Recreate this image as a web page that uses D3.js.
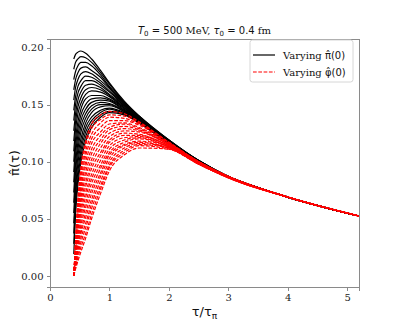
<!DOCTYPE html>
<html lang="en">
<head>
<meta charset="UTF-8">
<title>pi hat vs tau</title>
<script src="https://d3js.org/d3.v7.min.js"></script>
<style>
  body { margin: 0; background: #fff; }
  .axis path, .axis line { stroke: #8a8a8a; shape-rendering: crispEdges; }
  .axis text { font-family: "DejaVu Serif", serif; font-size: 10px; fill: #222; }
  .sans { font-family: "DejaVu Sans", sans-serif; }
  .serif { font-family: "DejaVu Serif", serif; }
</style>
</head>
<body>
<script>
  // tau/tau_pi sample points shared by every curve
  var xs = [0.40, 0.43, 0.47, 0.52, 0.60, 0.70, 0.85, 1.00, 1.25, 1.50, 2.00, 2.50, 3.00, 4.00, 5.20];

  // black curves: varying pi_hat(0)
  var blackCurves = [
    [0.190,0.194,0.196,0.197,0.195,0.190,0.180,0.169,0.153,0.140,0.119,0.101,0.087,0.069,0.0524],
    [0.181,0.187,0.190,0.192,0.191,0.187,0.178,0.168,0.152,0.140,0.119,0.101,0.087,0.069,0.0524],
    [0.172,0.179,0.184,0.187,0.187,0.184,0.176,0.166,0.152,0.139,0.119,0.101,0.087,0.069,0.0524],
    [0.163,0.172,0.178,0.182,0.183,0.180,0.174,0.165,0.151,0.139,0.118,0.101,0.087,0.069,0.0524],
    [0.154,0.165,0.172,0.177,0.179,0.177,0.171,0.164,0.150,0.139,0.118,0.101,0.087,0.069,0.0524],
    [0.145,0.157,0.166,0.171,0.175,0.174,0.169,0.162,0.150,0.138,0.118,0.101,0.087,0.069,0.0524],
    [0.136,0.150,0.160,0.166,0.171,0.171,0.167,0.161,0.149,0.138,0.118,0.101,0.087,0.069,0.0524],
    [0.127,0.142,0.154,0.161,0.167,0.168,0.165,0.159,0.149,0.138,0.118,0.100,0.087,0.069,0.0524],
    [0.118,0.135,0.148,0.156,0.163,0.165,0.163,0.158,0.148,0.137,0.117,0.100,0.087,0.069,0.0524],
    [0.109,0.128,0.142,0.151,0.159,0.162,0.161,0.157,0.147,0.137,0.117,0.100,0.087,0.069,0.0524],
    [0.100,0.120,0.135,0.146,0.155,0.158,0.158,0.155,0.147,0.137,0.117,0.100,0.087,0.069,0.0524],
    [0.091,0.113,0.129,0.141,0.150,0.155,0.156,0.154,0.146,0.137,0.117,0.100,0.087,0.069,0.0524],
    [0.082,0.106,0.123,0.136,0.146,0.152,0.154,0.153,0.145,0.136,0.117,0.100,0.087,0.069,0.0524],
    [0.073,0.098,0.117,0.131,0.142,0.149,0.152,0.151,0.145,0.136,0.117,0.100,0.087,0.069,0.0524],
    [0.064,0.091,0.111,0.126,0.138,0.146,0.150,0.150,0.144,0.136,0.117,0.100,0.087,0.069,0.0524],
    [0.055,0.083,0.105,0.120,0.134,0.143,0.148,0.149,0.144,0.135,0.116,0.099,0.087,0.069,0.0524],
    [0.046,0.076,0.099,0.115,0.130,0.139,0.145,0.147,0.143,0.135,0.116,0.099,0.087,0.069,0.0524],
    [0.037,0.069,0.092,0.110,0.126,0.136,0.143,0.146,0.142,0.135,0.116,0.099,0.087,0.069,0.0524],
    [0.028,0.061,0.086,0.105,0.122,0.133,0.141,0.144,0.142,0.134,0.116,0.099,0.087,0.069,0.0524],
    [0.019,0.054,0.080,0.100,0.118,0.130,0.139,0.143,0.141,0.134,0.116,0.099,0.087,0.069,0.0524]
  ];

  // red dashed curves: varying phi_hat(0)
  var redCurves = [
    [0,0.030,0.068,0.095,0.118,0.133,0.141,0.144,0.142,0.135,0.117,0.100,0.087,0.069,0.0524],
    [0,0.029,0.065,0.091,0.114,0.129,0.137,0.141,0.140,0.134,0.117,0.100,0.087,0.069,0.0524],
    [0,0.027,0.062,0.087,0.109,0.124,0.134,0.139,0.138,0.133,0.117,0.100,0.087,0.069,0.0524],
    [0,0.026,0.059,0.083,0.105,0.120,0.130,0.136,0.136,0.132,0.116,0.100,0.087,0.069,0.0524],
    [0,0.025,0.056,0.079,0.100,0.116,0.126,0.133,0.134,0.130,0.116,0.100,0.087,0.069,0.0524],
    [0,0.024,0.054,0.076,0.096,0.111,0.123,0.130,0.133,0.129,0.116,0.100,0.087,0.069,0.0524],
    [0,0.022,0.051,0.072,0.091,0.107,0.119,0.128,0.131,0.128,0.115,0.100,0.087,0.069,0.0524],
    [0,0.021,0.048,0.068,0.087,0.102,0.116,0.125,0.129,0.127,0.115,0.099,0.087,0.069,0.0524],
    [0,0.020,0.045,0.064,0.082,0.098,0.112,0.122,0.127,0.126,0.115,0.099,0.087,0.069,0.0524],
    [0,0.019,0.042,0.060,0.078,0.094,0.108,0.119,0.125,0.124,0.114,0.099,0.087,0.069,0.0524],
    [0,0.017,0.039,0.056,0.073,0.089,0.105,0.117,0.123,0.123,0.114,0.099,0.087,0.069,0.0524],
    [0,0.016,0.036,0.052,0.069,0.085,0.101,0.114,0.121,0.122,0.114,0.099,0.087,0.069,0.0524],
    [0,0.015,0.033,0.048,0.064,0.081,0.097,0.111,0.119,0.121,0.113,0.099,0.086,0.069,0.0524],
    [0,0.014,0.030,0.044,0.060,0.076,0.094,0.108,0.117,0.120,0.113,0.099,0.086,0.069,0.0524],
    [0,0.012,0.027,0.040,0.055,0.072,0.090,0.106,0.115,0.118,0.113,0.098,0.086,0.069,0.0524],
    [0,0.011,0.025,0.037,0.051,0.067,0.087,0.103,0.114,0.117,0.112,0.098,0.086,0.069,0.0524],
    [0,0.010,0.022,0.033,0.046,0.063,0.083,0.100,0.112,0.116,0.112,0.098,0.086,0.069,0.0524],
    [0,0.009,0.019,0.029,0.042,0.059,0.079,0.097,0.110,0.115,0.112,0.098,0.086,0.069,0.0524],
    [0,0.007,0.016,0.025,0.037,0.054,0.076,0.095,0.108,0.114,0.111,0.098,0.086,0.069,0.0524],
    [0,0.006,0.013,0.021,0.033,0.050,0.072,0.092,0.106,0.112,0.111,0.098,0.086,0.069,0.0524]
  ];

  var xTicks = [0, 1, 2, 3, 4, 5];
  var yTicks = [0.00, 0.05, 0.10, 0.15, 0.20];

  var W = 399, H = 328;
  var margin = {top: 39, right: 40, bottom: 41, left: 50},
      width = W - margin.left - margin.right,
      height = H - margin.top - margin.bottom;

  var svg = d3.select("body").append("svg")
      .attr("width", W)
      .attr("height", H);

  var g = svg.append("g")
      .attr("transform", "translate(" + margin.left + "," + margin.top + ")");

  var x = d3.scaleLinear().domain([0, 5.2]).range([0, width]);
  var y = d3.scaleLinear().domain([-0.0098, 0.2075]).range([height, 0]);

  g.append("clipPath").attr("id", "clip")
    .append("rect").attr("width", width).attr("height", height);

  var line = d3.line()
      .x(function(d, i) { return x(xs[i]); })
      .y(function(d) { return y(d); })
      .curve(d3.curveMonotoneX);

  var plot = g.append("g").attr("clip-path", "url(#clip)");

  plot.selectAll(".black")
      .data(blackCurves)
    .enter().append("path")
      .attr("class", "black")
      .attr("fill", "none")
      .attr("stroke", "#000")
      .attr("stroke-width", 1.2)
      .attr("d", line);

  plot.selectAll(".red")
      .data(redCurves)
    .enter().append("path")
      .attr("class", "red")
      .attr("fill", "none")
      .attr("stroke", "#ff0000")
      .attr("stroke-width", 1.2)
      .attr("stroke-dasharray", "3.7,1.6")
      .attr("d", line);

  // axes
  g.append("g")
      .attr("class", "axis")
      .attr("transform", "translate(0," + height + ")")
      .call(d3.axisBottom(x).tickValues(xTicks).tickFormat(d3.format("d")).tickSizeOuter(0).tickSize(3.5));

  g.append("g")
      .attr("class", "axis")
      .call(d3.axisLeft(y).tickValues(yTicks).tickFormat(d3.format(".2f")).tickSizeOuter(0).tickSize(3.5));

  // frame
  g.append("rect")
      .attr("width", width)
      .attr("height", height)
      .attr("fill", "none")
      .attr("stroke", "#8a8a8a")
      .attr("shape-rendering", "crispEdges");

  // title
  var title = svg.append("text")
      .attr("x", margin.left + width / 2)
      .attr("y", 34)
      .attr("text-anchor", "middle")
      .attr("font-size", 10)
      .attr("fill", "#111");
  title.append("tspan").attr("class", "sans").attr("font-style", "italic").text("T");
  title.append("tspan").attr("class", "sans").attr("font-size", 7).attr("dy", 2).text("0");
  title.append("tspan").attr("class", "sans").attr("dy", -2).text(" = 500");
  title.append("tspan").attr("class", "serif").text(" MeV, ");
  title.append("tspan").attr("class", "sans").attr("font-style", "italic").text("τ");
  title.append("tspan").attr("class", "sans").attr("font-size", 7).attr("dy", 2).text("0");
  title.append("tspan").attr("class", "sans").attr("dy", -2).text(" = 0.4");
  title.append("tspan").attr("class", "serif").text(" fm");

  // x label
  var xl = svg.append("text")
      .attr("class", "sans")
      .attr("x", margin.left + width / 2)
      .attr("y", 316)
      .attr("text-anchor", "middle")
      .attr("font-size", 13)
      .attr("fill", "#111");
  xl.append("tspan").text("τ/τ");
  xl.append("tspan").attr("font-size", 9).attr("dy", 3).text("π");

  // y label
  svg.append("text")
      .attr("class", "sans")
      .attr("transform", "translate(19," + (margin.top + height / 2) + ") rotate(-90)")
      .attr("text-anchor", "middle")
      .attr("font-size", 13)
      .attr("fill", "#111")
      .text("π\u0302(τ)");

  // legend
  var lg = svg.append("g").attr("transform", "translate(250,40)");
  lg.append("rect")
      .attr("width", 103).attr("height", 42)
      .attr("rx", 2.5)
      .attr("fill", "#fff").attr("fill-opacity", 0.8)
      .attr("stroke", "#d6d6d6");

  var legendItems = [
    {label: "π\u0302(0)", color: "#000", dash: null},
    {label: "φ\u0302(0)", color: "#ff0000", dash: "3.7,1.6"}
  ];
  legendItems.forEach(function(it, i) {
    var yy = 15 + i * 17;
    lg.append("line")
        .attr("x1", 3).attr("x2", 25)
        .attr("y1", yy).attr("y2", yy)
        .attr("stroke", it.color)
        .attr("stroke-width", 1.2)
        .attr("stroke-dasharray", it.dash);
    var t = lg.append("text")
        .attr("x", 33).attr("y", yy + 3.5)
        .attr("font-size", 10)
        .attr("fill", "#111");
    t.append("tspan").attr("class", "serif").text("Varying ");
    t.append("tspan").attr("class", "sans").text(it.label);
  });
</script>
</body>
</html>
